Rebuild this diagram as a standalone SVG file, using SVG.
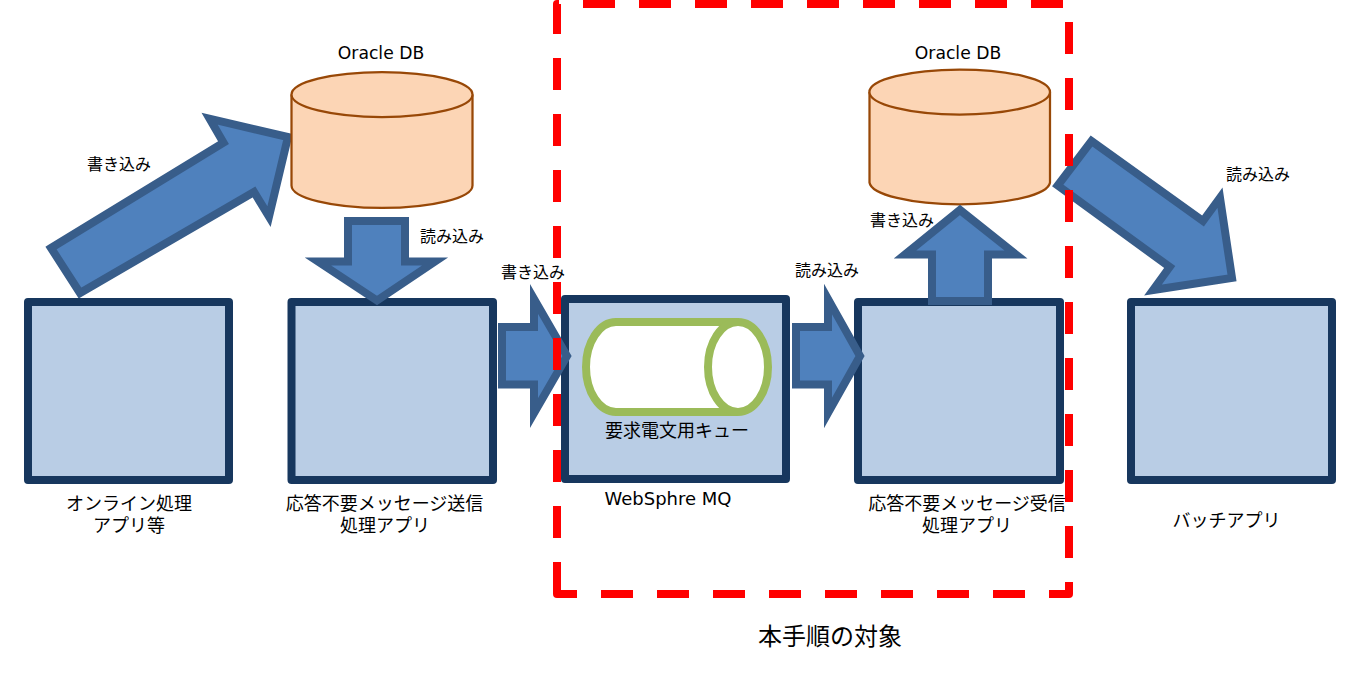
<svg xmlns="http://www.w3.org/2000/svg" width="1356" height="688" viewBox="0 0 1356 688">
<style>
.box{fill:#b9cde5;stroke:#17375e;stroke-width:8;stroke-linejoin:round}
.arrow{fill:#4f81bd;stroke:#385d8a;stroke-width:8;stroke-linejoin:miter;stroke-miterlimit:20}
.db{fill:#fcd5b5;stroke:#984807;stroke-width:2.250}
.t{font-family:"Noto Sans CJK JP","DejaVu Sans",sans-serif;fill:#000;text-anchor:middle}
.s16{font-size:16px}.s18{font-size:18px}.s24{font-size:24px}
.lat{font-family:"DejaVu Sans","Noto Sans CJK JP",sans-serif}
.frame{fill:none;stroke:#f00;stroke-width:8;stroke-linejoin:round;stroke-dasharray:32 24}
</style>
<rect width="1356" height="688" fill="#fff"/>
<g id="connectors-back">
<polygon class="arrow" points="51,248 223.500,142.700 209.600,118.700 288,137 269,216.700 254,192 80,293"/>
</g>
<g id="box-online"><rect class="box" x="28" y="302" width="201" height="178"/>
<text class="t s18" x="129" y="510">オンライン処理</text><text class="t s18" x="129" y="532">アプリ等</text></g>
<g id="box-sender"><rect class="box" x="291.500" y="302" width="201.500" height="178"/>
<text class="t s18" x="384.500" y="510">応答不要メッセージ送信</text><text class="t s18" x="385" y="532">処理アプリ</text></g>
<g id="box-batch"><rect class="box" x="1131" y="302" width="201" height="178"/>
<text class="t s18" x="1226.500" y="527">バッチアプリ</text></g>
<g id="box-receiver"><rect class="box" x="858" y="302" width="202" height="178"/>
<text class="t s18" x="967" y="510">応答不要メッセージ受信</text><text class="t s18" x="967" y="532">処理アプリ</text></g>
<g id="box-mq"><rect class="box" x="565" y="299" width="221" height="180"/>
<path d="M738 322H616A30 45 0 0 0 616 412H738" fill="#fff" stroke="#9bbb59" stroke-width="8"/>
<ellipse cx="738" cy="367" rx="30" ry="45" fill="#fff" stroke="#9bbb59" stroke-width="8"/>
<text class="t s18" x="677" y="437">要求電文用キュー</text>
<text class="t s18 lat" x="668" y="505">WebSphre MQ</text></g>
<g id="db-left">
<path class="db" d="M291.500 94.500V185.500A90.500 22.500 0 0 0 472.500 185.500V94.500"/>
<ellipse class="db" cx="382" cy="94.500" rx="90.500" ry="22.500"/>
<text class="t lat" style="font-size:17.200px" x="381" y="59">Oracle DB</text></g>
<g id="db-right">
<path class="db" d="M869.500 92V182.500A90.300 22.500 0 0 0 1050 182.500V92"/>
<ellipse class="db" cx="959.700" cy="92" rx="90.300" ry="22.500"/>
<text class="t lat" style="font-size:17.200px" x="958" y="59">Oracle DB</text></g>
<g id="connectors">
<polygon class="arrow" points="348,221 405,221 405,261.500 435,261.500 377,300.500 318,261.500 348,261.500"/>
<polygon class="arrow" points="502,327 534,327 534,299 567,356 534,413 534,384.500 502,384.500"/>
<polygon class="arrow" points="796,327 828,327 828,299 860,356 828,413 828,384.500 796,384.500"/>
<polygon class="arrow" points="932,301 932,254.500 905,254.500 960,210 1016,254.500 988,254.500 988,301"/>
<polygon class="arrow" points="1091.500,141 1203,221 1220,197.700 1232,278 1153,290 1169.700,267 1057.700,185.500"/>
</g>
<path id="scope-frame" class="frame" d="M557 594V4H1069V594Z"/>
<g id="labels">
<text class="t s16" x="119" y="170">書き込み</text>
<text class="t s16" x="452" y="242">読み込み</text>
<text class="t s16" x="533" y="278">書き込み</text>
<text class="t s16" x="827" y="276">読み込み</text>
<text class="t s16" x="902" y="226">書き込み</text>
<text class="t s16" x="1258" y="180">読み込み</text>
<text class="t s24" x="830" y="645">本手順の対象</text>
</g>
</svg>
